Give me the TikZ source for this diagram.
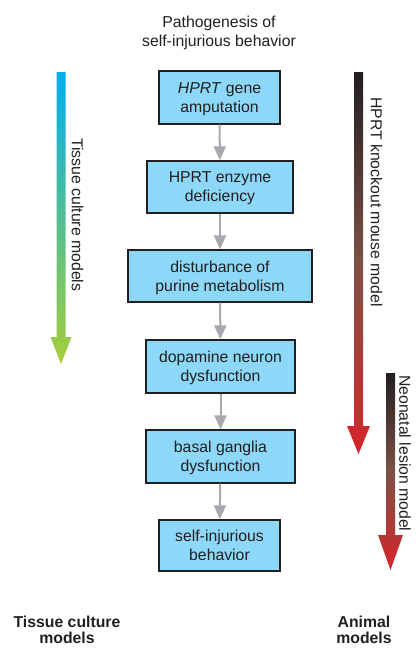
\documentclass[tikz,border=0pt]{standalone}
\usepackage{fontspec}
\setmainfont{Liberation Sans}
\usetikzlibrary{arrows.meta}
\definecolor{boxblue}{HTML}{8DD8F8}
\definecolor{txtgray}{HTML}{231F20}
\definecolor{linkgray}{HTML}{A7A9AC}
\definecolor{topcyan}{HTML}{00AEEF}
\definecolor{botgreen}{HTML}{A6CE39}
\definecolor{topblack}{HTML}{231F20}
\definecolor{midbrown}{HTML}{7C5247}
\definecolor{botred}{HTML}{D7242A}
\begin{document}
\begin{tikzpicture}[x=1pt, y=-1pt, font=\fontsize{15.8}{19}\selectfont, text=txtgray,
	stepbox/.style={draw=txtgray, line width=1.3pt, fill=boxblue, align=center, inner sep=0pt, text depth=0pt},
	link/.style={linkgray, line width=2pt, -{Triangle[width=12pt, length=14pt]}},
	sidetext/.style={rotate=-90, anchor=west, inner sep=0pt},
	animalshade/.style={top color=topblack, bottom color=botred, middle color=midbrown}]
	\useasboundingbox (0,0) rectangle (417,648);
	% title
	\node[align=center] (title) at (219,32.5) {Pathogenesis of\\self-injurious behavior};
	% pathway boxes
	\node[stepbox, minimum width=121pt, minimum height=53pt] (gene) at (219.5,97.5) {\textit{HPRT} gene\\amputation};
	\node[stepbox, minimum width=146pt, minimum height=52pt] (enzyme) at (220,187) {HPRT enzyme\\deficiency};
	\node[stepbox, minimum width=184pt, minimum height=52pt] (purine) at (220,276) {disturbance of\\purine metabolism};
	\node[stepbox, minimum width=149pt, minimum height=53pt] (dopamine) at (220.5,366.5) {dopamine neuron\\dysfunction};
	\node[stepbox, minimum width=149pt, minimum height=53pt] (ganglia) at (220.5,456.5) {basal ganglia\\dysfunction};
	\node[stepbox, minimum width=121pt, minimum height=51pt] (sib) at (219.5,545.5) {self-injurious\\behavior};
	\draw[link] (gene) -- (enzyme);
	\draw[link] (enzyme) -- (purine);
	\draw[link] (purine) -- (dopamine);
	\draw[link] (dopamine) -- (ganglia);
	\draw[link] (ganglia) -- (sib);
	% model arrows
	\shade[top color=topcyan, bottom color=botgreen] (56.5,72) -- (65.5,72) -- (65.5,337) -- (71.5,337) -- (61,364) -- (50.5,337) -- (56.5,337) -- cycle;
	\shade[animalshade] (354,72) -- (363,72) -- (363,426) -- (370,426) -- (358.5,454) -- (347,426) -- (354,426) -- cycle;
	\shade[animalshade] (386,373) -- (395,373) -- (395,535) -- (403,535) -- (390.5,570) -- (378,535) -- (386,535) -- cycle;
	\node[sidetext] (tissue) at (77.5,138) {Tissue culture models};
	\node[sidetext] (knockout) at (376.5,97) {HPRT knockout mouse model};
	\node[sidetext] (lesion) at (405,375) {Neonatal lesion model};
	% bottom labels
	\node[align=center, font=\fontsize{15.8}{16}\selectfont\bfseries] (tcm) at (67,630) {Tissue culture\\models};
	\node[align=center, font=\fontsize{15.8}{16}\selectfont\bfseries] (am) at (364,630) {Animal\\models};
\end{tikzpicture}
\end{document}
